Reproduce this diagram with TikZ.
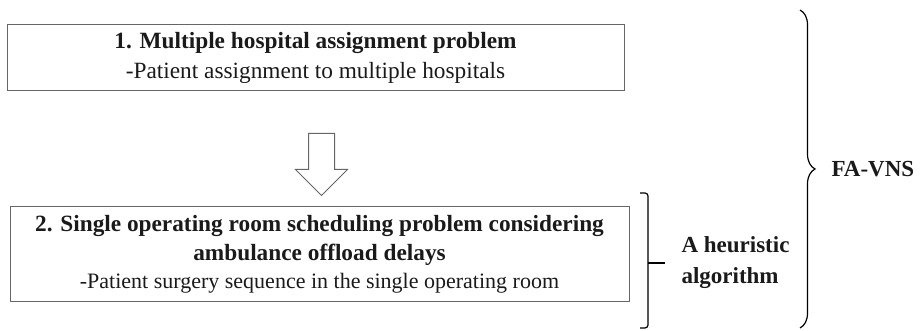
\documentclass[tikz,border=0pt]{standalone}
\usepackage{fontspec}
\setmainfont{Liberation Serif}
\usepackage{xcolor}
\usetikzlibrary{positioning, shapes.arrows, decorations.pathreplacing}
\definecolor{frame}{HTML}{666666}
\definecolor{ink}{HTML}{1A1A1A}

\begin{document}
\begin{tikzpicture}[x=1pt, y=1pt,
      every node/.style={align=center, text=ink},
      probbox/.style={draw=frame, line width=1pt, inner sep=0pt},
      flow/.style={single arrow, draw=frame, line width=1pt, rotate=-90,
        minimum height=62pt, inner xsep=0pt, inner ysep=12.5pt,
        single arrow head extend=13pt, single arrow tip angle=90},
      lab/.style={font=\fontsize{23}{31}\selectfont\bfseries, align=left}]
    \useasboundingbox (0,0) rectangle (920,331);
    \node[probbox, minimum width=617pt, minimum height=66pt,
      font=\fontsize{23.3}{29.5}\selectfont] (assign) at (315.5,273)
      {\textbf{1. Multiple hospital assignment problem}\\-Patient assignment to multiple hospitals};
    \node[probbox, minimum width=619pt, minimum height=95pt,
      font=\fontsize{23.3}{28.5}\selectfont] (surgery) at (319.5,76.5)
      {\textbf{2. Single operating room scheduling problem considering}\\\textbf{ambulance offload delays}\\
       \fontsize{22}{28.5}\selectfont -Patient surgery sequence in the single operating room};
    \node[flow] (step) at (321.5,173) {};
    % brackets on the right
    \coordinate (hs) at (640,138);
    \coordinate (he) at (640,3);
    \coordinate (hm) at (665,68);
    \draw[line width=1.2pt, rounded corners=3pt] (hs) -- ++(8,0) |- (he);
    \draw[line width=1.2pt] (648,68) -- (hm);
    \node[lab, right=13pt of hm] (heur) {A heuristic\\algorithm};
    \coordinate (bs) at (800,321);
    \coordinate (be) at (800,3);
    \draw[line width=1.2pt, decorate, decoration={brace, amplitude=15pt}] (bs) -- (be)
      coordinate[pos=0.5, xshift=15pt] (bm);
    \node[lab, right=13pt of bm] (fa) {FA-VNS};
\end{tikzpicture}
\end{document}
